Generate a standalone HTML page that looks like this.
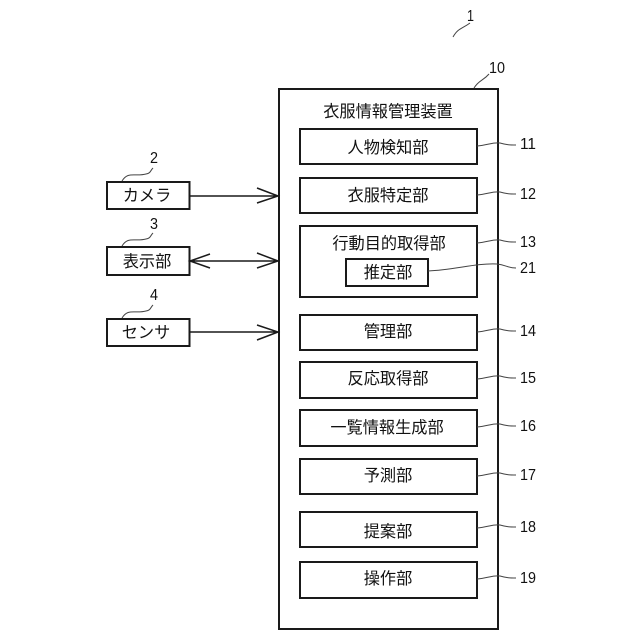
<!DOCTYPE html>
<html>
<head>
<meta charset="utf-8">
<style>
html,body{margin:0;padding:0;background:#fff;width:640px;height:640px;overflow:hidden}
svg{display:block}
text{font-family:"Liberation Sans","Noto Sans CJK JP",sans-serif;fill:#111}
.b{fill:#fff;stroke:#1a1a1a;stroke-width:2}
.t{font-size:16.2px;text-anchor:middle}
.n{font-size:16px}
.l{fill:none;stroke:#444;stroke-width:1}
.a{fill:none;stroke:#1a1a1a;stroke-width:1.5}
</style>
</head>
<body>
<svg width="640" height="640" viewBox="0 0 640 640" xmlns="http://www.w3.org/2000/svg">
<rect class="b" x="279" y="89" width="219" height="540"/>
<text class="t" x="388" y="117">衣服情報管理装置</text>

<rect class="b" x="300" y="129" width="177" height="35"/>
<text class="t" x="388" y="153">人物検知部</text>
<rect class="b" x="300" y="178" width="177" height="35"/>
<text class="t" x="388" y="201">衣服特定部</text>
<rect class="b" x="300" y="226" width="177" height="71"/>
<text class="t" x="389" y="249">行動目的取得部</text>
<rect class="b" x="346" y="259" width="82" height="27"/>
<text class="t" x="388" y="278">推定部</text>
<rect class="b" x="300" y="315" width="177" height="35"/>
<text class="t" x="388" y="337">管理部</text>
<rect class="b" x="300" y="362" width="177" height="36"/>
<text class="t" x="388" y="384">反応取得部</text>
<rect class="b" x="300" y="410" width="177" height="36"/>
<text class="t" x="387" y="433">一覧情報生成部</text>
<rect class="b" x="300" y="459" width="177" height="35"/>
<text class="t" x="388" y="481">予測部</text>
<rect class="b" x="300" y="512" width="177" height="35"/>
<text class="t" x="388" y="537">提案部</text>
<rect class="b" x="300" y="562" width="177" height="36"/>
<text class="t" x="388" y="584">操作部</text>

<rect class="b" x="107" y="182" width="82.500" height="27"/>
<text class="t" x="147" y="201">カメラ</text>
<rect class="b" x="107" y="247" width="82.500" height="28"/>
<text class="t" x="147" y="267">表示部</text>
<rect class="b" x="107" y="319" width="82.500" height="27"/>
<text class="t" x="146" y="338">センサ</text>

<path class="a" d="M190 196H278M257 188L278 196L257 203"/>
<path class="a" d="M190 261H278M257 253L278 261L257 268M210 254L190 261L210 268"/>
<path class="a" d="M190 332H278M257 325L278 332L257 340"/>

<path class="l" d="M453 37C458 28 462 29 470 23"/>
<path class="l" d="M474 88C479 80 483 81 489 74"/>
<path class="l" d="M122 181C128 171 135 177 146 174C151 173 150 171 153 168"/>
<path class="l" d="M122 246C128 236 135 242 146 239C151 238 150 236 153 233"/>
<path class="l" d="M122 318C128 308 135 314 146 311C151 310 150 308 153 305"/>

<path class="l" d="M477 146C488 145 493 142 500 143C507 145 510 145 516 145"/>
<path class="l" d="M477 195C488 194 493 191 500 192C507 194 510 194 516 194"/>
<path class="l" d="M477 243C488 242 493 239 500 240C507 242 510 242 516 242"/>
<path class="l" d="M428 271C455 270 475 263 497 264C506 265 508 268 516 268"/>
<path class="l" d="M477 332C488 331 493 328 500 329C507 331 510 331 516 331"/>
<path class="l" d="M477 379C488 378 493 375 500 376C507 378 510 378 516 378"/>
<path class="l" d="M477 427C488 426 493 423 500 424C507 426 510 426 516 426"/>
<path class="l" d="M477 476C488 475 493 472 500 473C507 475 510 475 516 475"/>
<path class="l" d="M477 528C488 527 493 524 500 525C507 527 510 527 516 527"/>
<path class="l" d="M477 579C488 578 493 575 500 576C507 578 510 578 516 578"/>

<text class="n" x="467" y="21" textLength="7" lengthAdjust="spacingAndGlyphs">1</text>
<text class="n" x="489" y="73" textLength="16" lengthAdjust="spacingAndGlyphs">10</text>
<text class="n" x="150" y="163" textLength="8" lengthAdjust="spacingAndGlyphs">2</text>
<text class="n" x="150" y="229" textLength="8" lengthAdjust="spacingAndGlyphs">3</text>
<text class="n" x="150" y="300" textLength="8" lengthAdjust="spacingAndGlyphs">4</text>
<text class="n" x="520" y="149" textLength="16" lengthAdjust="spacingAndGlyphs">11</text>
<text class="n" x="520" y="199" textLength="16" lengthAdjust="spacingAndGlyphs">12</text>
<text class="n" x="520" y="247" textLength="16" lengthAdjust="spacingAndGlyphs">13</text>
<text class="n" x="520" y="273" textLength="16" lengthAdjust="spacingAndGlyphs">21</text>
<text class="n" x="520" y="336" textLength="16" lengthAdjust="spacingAndGlyphs">14</text>
<text class="n" x="520" y="383" textLength="16" lengthAdjust="spacingAndGlyphs">15</text>
<text class="n" x="520" y="431" textLength="16" lengthAdjust="spacingAndGlyphs">16</text>
<text class="n" x="520" y="480" textLength="16" lengthAdjust="spacingAndGlyphs">17</text>
<text class="n" x="520" y="532" textLength="16" lengthAdjust="spacingAndGlyphs">18</text>
<text class="n" x="520" y="583" textLength="16" lengthAdjust="spacingAndGlyphs">19</text>
</svg>
</body>
</html>
